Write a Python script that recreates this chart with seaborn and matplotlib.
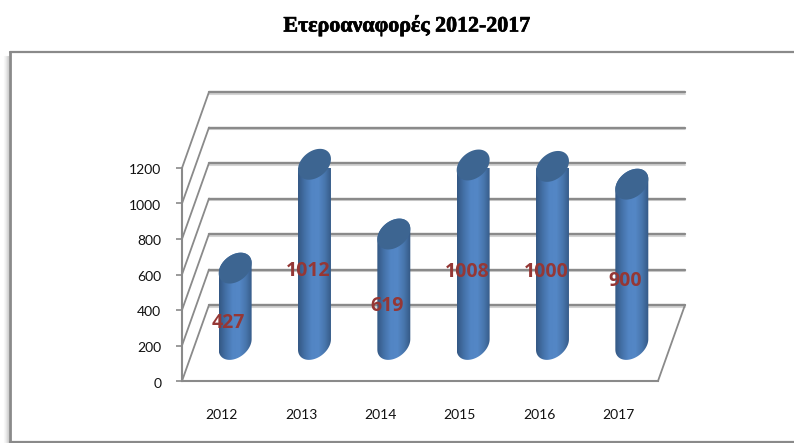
import numpy as np
import pandas as pd
import seaborn as sns
import matplotlib.pyplot as plt
import matplotlib.patheffects as pe
from matplotlib.colors import LinearSegmentedColormap
from matplotlib.patches import Polygon
from matplotlib.transforms import ScaledTranslation

# Values
years = ['2012', '2013', '2014', '2015', '2016', '2017']
counts = [427, 1012, 619, 1008, 1000, 900]
y_ticks = [0, 200, 400, 600, 800, 1000, 1200]

df = pd.DataFrame({'year': years, 'count': counts})

sns.set_theme(style='white')
plt.rcParams['font.family'] = ['Lato', 'DejaVu Sans']

W, H = 794, 443
fig = plt.figure(figsize=(W / 100, H / 100), dpi=100)
ax = fig.add_axes([182 / W, 1 - 381 / H, (658 - 182) / W, (381 - 168) / H])
ax.patch.set_alpha(0)

line_col = '#8a8a8a'
shadow_col = '#d4d4d4'
# fake 3d depth of the chart box, in data units
depth_x = 0.34
depth_y = 428

sns.barplot(data=df, x='year', y='count', width=0.416, color='#4f81bd', ax=ax, zorder=3)
ax.set_xlim(-0.5, 5.5)
ax.set_ylim(0, 1200)
ax.set_xlabel('')
ax.set_ylabel('')

# back wall, side wall and floor
for v in y_ticks:
    ax.plot([-0.5 + depth_x, 5.5 + depth_x], [v + depth_y - 9] * 2, color=shadow_col, lw=1.5,
            clip_on=False, zorder=1)
    ax.plot([-0.5 + depth_x, 5.5 + depth_x], [v + depth_y] * 2, color=line_col, lw=1.7,
            clip_on=False, zorder=1)
    ax.plot([-0.5, -0.5 + depth_x], [v, v + depth_y], color=line_col, lw=1.3, clip_on=False, zorder=1)
ax.plot([5.5, 5.5 + depth_x], [0, depth_y], color=line_col, lw=1.3, clip_on=False, zorder=1)

# cylinders: each seaborn bar gives the position, then shading and caps on top
cyl_cmap = LinearSegmentedColormap.from_list('cyl', ['#345884', '#4471a8', '#5285c4', '#5487c6', '#4876ad', '#345884'])
for bar, val in zip(ax.patches, counts):
    cx = bar.get_x() + bar.get_width() / 2 + depth_x / 2
    bottom = depth_y / 2 - 8
    top = depth_y / 2 - 5 + val
    half = bar.get_width() / 2
    a = half * 0.94
    b = 0.07
    c = 87

    # t0 is where the tilted ellipse reaches furthest right
    t0 = np.arctan2(b, a)
    t_up = np.linspace(t0, t0 + np.pi, 60)
    t_down = np.linspace(t0 + np.pi, t0 + 2 * np.pi, 60)
    outline = np.vstack([
        np.column_stack([cx + a * np.cos(t_down) + b * np.sin(t_down), bottom + c * np.sin(t_down)]),
        np.column_stack([cx + a * np.cos(t_up) + b * np.sin(t_up), top + c * np.sin(t_up)]),
    ])
    bar.set_visible(False)

    shape = Polygon(outline, closed=True, transform=ax.transData, facecolor='none', edgecolor='none')
    ax.add_patch(shape)
    img = ax.imshow(np.linspace(0, 1, 64).reshape(1, -1), cmap=cyl_cmap, aspect='auto', zorder=3,
                    extent=[cx - half, cx + half, bottom - 100, top + 100])
    img.set_clip_path(shape)
    t = np.linspace(0, 2 * np.pi, 120)
    ax.fill(cx + a * np.cos(t) + b * np.sin(t), top + c * np.sin(t), color='#3d6591', lw=0, zorder=4, clip_on=False)

    ax.text(cx - 0.08, val / 2 + 112, str(val), color='#953735', fontsize=14, fontweight='bold',
            ha='center', va='center', zorder=5, family=['Open Sans', 'DejaVu Sans'])

ax.set_xlim(-0.5, 5.5)
ax.set_ylim(0, 1200)

ax.set_yticks(y_ticks)
ax.set_xticks(range(len(years)))
ax.set_xticklabels(years)
ax.set_xticks(np.arange(-0.5, 6), minor=True)
ax.tick_params(axis='x', which='major', length=0, pad=20, labelsize=10, colors='#111111')
ax.tick_params(axis='x', which='minor', length=4, width=1.2, color=line_col, direction='out')
ax.tick_params(axis='y', which='major', length=4, width=1.2, color=line_col, pad=11,
               labelsize=10, labelcolor='#111111', left=True)
# y labels sit a touch below their ticks in the original
nudge = ScaledTranslation(0, -1.5 / 100, fig.dpi_scale_trans)
for lab in ax.get_yticklabels():
    lab.set_transform(lab.get_transform() + nudge)
for name in ['top', 'right']:
    ax.spines[name].set_visible(False)
for name in ['left', 'bottom']:
    ax.spines[name].set_color(line_col)
    ax.spines[name].set_linewidth(1.5)

# frame with soft left shadow
frame_x = 9.5 / W
frame_top = 1 - 51.5 / H
frame_bottom = 1 - 441.5 / H
for i, a in enumerate([0.32, 0.22, 0.14, 0.08, 0.04]):
    fx = (7.5 - i) / W
    fig.add_artist(plt.Line2D([fx, fx], [frame_bottom, frame_top - 4 / H], color='#777777', alpha=a, lw=0.9))
fig.add_artist(plt.Line2D([frame_x, frame_x], [frame_bottom, frame_top], color='#8a8a8a', lw=2))
fig.add_artist(plt.Line2D([frame_x, 1], [frame_top, frame_top], color='#8a8a8a', lw=1.6))
fig.add_artist(plt.Line2D([frame_x, 1], [frame_bottom, frame_bottom], color='#8a8a8a', lw=1.6))

title = fig.text(407 / W, 1 - 26 / H, 'Ετεροαναφορές 2012-2017', ha='center', va='center', fontsize=15.8,
                 fontweight='bold', color='black', family=['Liberation Serif', 'DejaVu Serif'])
title.set_path_effects([pe.withStroke(linewidth=0.5, foreground='black')])

fig.savefig('out.png', dpi=100)
plt.close(fig)
